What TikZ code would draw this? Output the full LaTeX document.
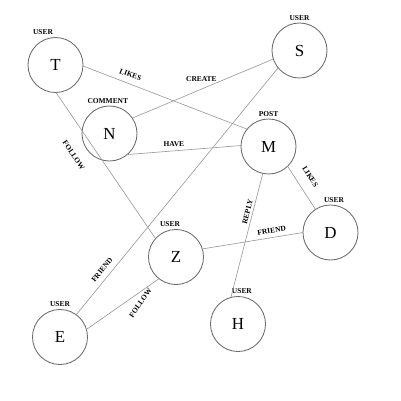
\documentclass[tikz,border=0pt]{standalone}
\usepackage{fontspec}
\setmainfont{Liberation Serif}
\usepackage{tikz}
\usetikzlibrary{
    positioning,
}
\usepackage{xcolor}
\definecolor{ringgray}{HTML}{6A6A6A}
\definecolor{edgegray}{HTML}{9A9A9A}

\begin{document}
\begin{tikzpicture}[
    x=0.025cm, y=-0.025cm,
    ent/.style  = {circle, draw=ringgray, line width=0.6pt,
                   minimum size=1.375cm, inner sep=0pt, outer sep=0pt,
                   font=\fontsize{12}{14}\selectfont},
    tag/.style  = {font=\fontsize{5.3}{6}\selectfont\bfseries, inner sep=0pt},
    lbl/.style  = {font=\fontsize{5.3}{6}\selectfont\bfseries, inner sep=0pt},
    rel/.style  = {draw=edgegray, line width=0.45pt},
    label distance=1.6pt,
]
\useasboundingbox (0,0) rectangle (401,401);

%% ── Entities ─────────────────────────────────────────────────────────────────
\node[ent, label={[tag, xshift=-8.9pt]above:USER}]   (T) at ( 55.5,  65.0) {T};
\node[ent, label={[tag]above:USER}]                  (S) at (299.5,  50.5) {S};
\node[ent, label={[tag, xshift=-1.2pt]above:COMMENT}](N) at (109.5, 133.5) {N};
\node[ent, label={[tag]above:POST}]                  (M) at (268.5, 146.5) {M};
\node[ent, label={[tag, xshift=2.5pt]above:USER}]    (D) at (330.5, 232.5) {D};
\node[ent, label={[tag, xshift=-4.3pt]above:USER}]   (Z) at (176.0, 257.0) {Z};
\node[ent, label={[tag]above:USER}]                  (E) at ( 60.0, 337.0) {E};
\node[ent, label={[tag, xshift=2.8pt]above:USER}]    (H) at (238.0, 324.0) {H};

%% ── Relations ────────────────────────────────────────────────────────────────
\draw[rel] (T.-2)  -- node[lbl, pos=.27, sloped, above=4.2pt]  {LIKES}  (M.141);
\draw[rel] (N.34)  -- node[lbl, pos=.49, above=5.1pt]          {CREATE} (S.198);
\draw[rel] (N.-50) -- node[lbl, pos=.41, above=3pt]            {HAVE}   (M.178);
\draw[rel] (T.-89) -- node[lbl, pos=.35, sloped, below=12.7pt] {FOLLOW} (Z.138);
\draw[rel] (E.54)  -- node[lbl, pos=.16, sloped, above=4pt]    {FRIEND} (S.219);
\draw[rel] (E.16)  -- node[lbl, pos=.67, xshift=3.8pt, yshift=-5.4pt,
                           rotate=55]                          {FOLLOW} (Z.232);
\draw[rel] (M.-46) -- node[lbl, pos=.41, sloped, above=7.5pt]  {LIKES}  (D.123);
\draw[rel] (H.105) -- node[lbl, pos=.68, sloped, above=1.7pt]  {REPLY}  (M.-102);
\draw[rel] (Z.17)  -- node[lbl, pos=.70, sloped, above=3.1pt]  {FRIEND} (D.180);

\end{tikzpicture}
\end{document}
